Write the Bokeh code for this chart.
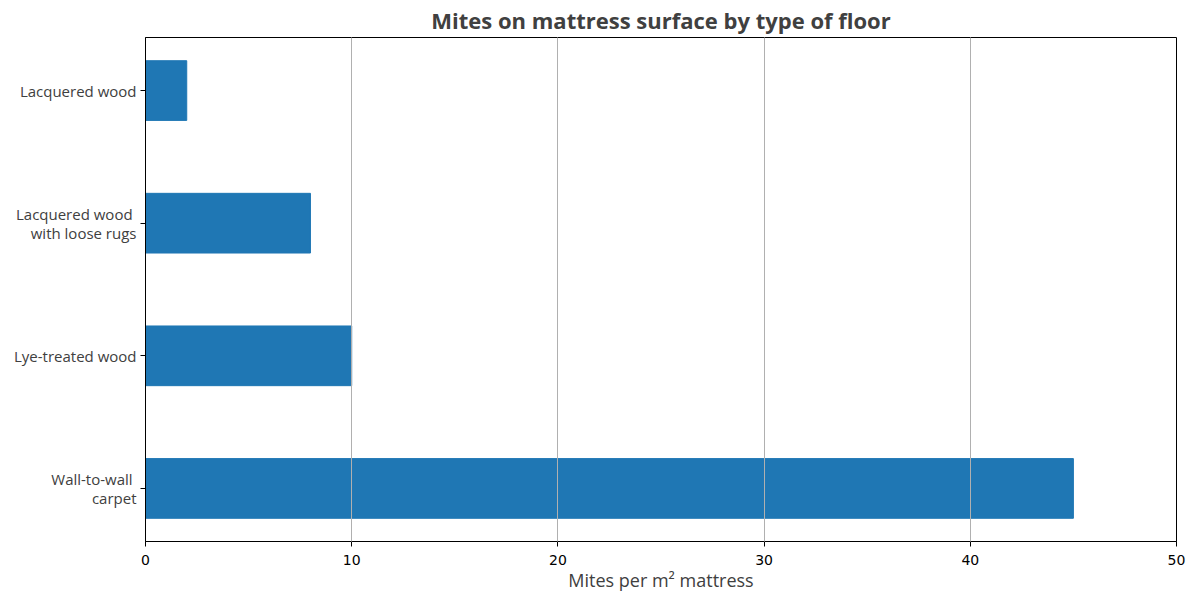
from bokeh.plotting import figure
from bokeh.models import FixedTicker, Range1d
from bokeh.embed import file_html
from bokeh.resources import INLINE

categories = ["Lacquered wood", "Lacquered wood \nwith loose rugs", "Lye-treated wood", "Wall-to-wall \ncarpet"]
mites = [2, 8, 10, 45]
x_ticks = [0, 10, 20, 30, 40, 50]

positions = list(range(len(categories)))

p = figure(width=1192, height=594, output_backend="svg", toolbar_location=None,
           x_range=Range1d(0, 50), y_range=Range1d(3.4, -0.4),
           min_border_left=145, min_border_right=16, min_border_top=10, min_border_bottom=50)

p.hbar(y=positions, right=mites, left=0, height=0.45, color="#1f77b4", line_color="#1f77b4")

p.title.text = "Mites on mattress surface by type of floor"
p.title.align = "center"
p.title.text_font = "Open Sans"
p.title.text_font_size = "22px"
p.title.text_font_style = "bold"
p.title.text_color = "#404040"
p.title.standoff = 5

p.xaxis.ticker = FixedTicker(ticks=x_ticks)
p.xaxis.axis_label = "Mites per m² mattress"
p.xaxis.axis_label_text_font = "Open Sans"
p.xaxis.axis_label_text_font_style = "normal"
p.xaxis.axis_label_text_font_size = "18px"
p.xaxis.axis_label_text_color = "#404040"
p.xaxis.axis_label_standoff = 0
p.xaxis.major_label_text_font = "DejaVu Sans"
p.xaxis.major_label_text_font_size = "14px"
p.xaxis.major_label_text_color = "#000000"
p.xaxis.major_label_standoff = 8
p.xaxis.minor_tick_line_color = None
p.xaxis.major_tick_out = 5
p.xaxis.major_tick_in = 0
p.xaxis.axis_line_color = "#000000"

p.yaxis.ticker = FixedTicker(ticks=positions)
p.yaxis.major_label_overrides = {i: c for i, c in enumerate(categories)}
p.yaxis.major_label_text_font = "Open Sans"
p.yaxis.major_label_text_font_size = "15px"
p.yaxis.major_label_text_line_height = 0.95
p.yaxis.major_label_text_color = "#404040"
p.yaxis.major_label_standoff = 4
p.yaxis.minor_tick_line_color = None
p.yaxis.major_tick_out = 5
p.yaxis.major_tick_in = 0
p.yaxis.axis_line_color = "#000000"

p.ygrid.grid_line_color = None
p.xgrid.ticker = FixedTicker(ticks=x_ticks)
p.xgrid.grid_line_color = "#b0b0b0"
p.xgrid.grid_line_width = 1
p.xgrid.level = "overlay"

p.outline_line_color = "#000000"
p.outline_line_alpha = 1

open("out.html", "w").write(file_html(p, INLINE))
